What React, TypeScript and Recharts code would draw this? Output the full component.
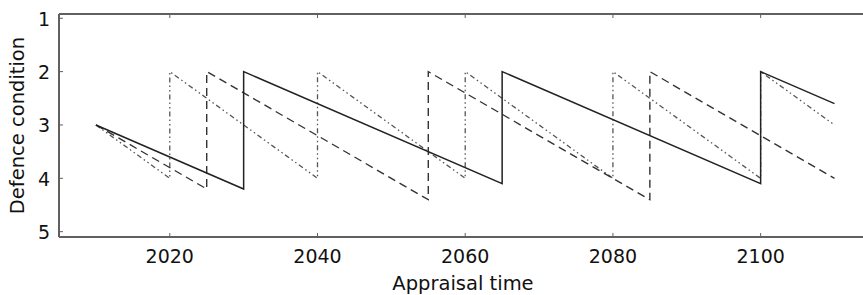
import React from 'react';
import { LineChart, Line, XAxis, YAxis } from 'recharts';

const solidYears = [2010, 2030, 2030, 2065, 2065, 2100, 2100, 2110];
const solidCondition = [3, 4.2, 2, 4.1, 2, 4.1, 2, 2.6];

const dashedYears = [2010, 2025, 2025, 2055, 2055, 2085, 2085, 2110];
const dashedCondition = [3, 4.2, 2, 4.4, 2, 4.4, 2, 4.0];

const dashDotYears = [2010, 2020, 2020, 2040, 2040, 2060, 2060, 2080, 2080, 2100, 2100, 2110];
const dashDotCondition = [3, 4, 2, 4, 2, 4, 2, 4, 2, 4, 2, 3];

const xTicks = [2020, 2040, 2060, 2080, 2100];
const yTicks = [1, 2, 3, 4, 5];

const toRows = (xs: number[], ys: number[]) => xs.map((x, i) => ({ year: x, value: ys[i] }));

const solidData = toRows(solidYears, solidCondition);
const dashedData = toRows(dashedYears, dashedCondition);
const dashDotData = toRows(dashDotYears, dashDotCondition);

const FONT = '"DejaVu Sans", sans-serif';
const AXIS = '#606060';
const TICKLEN = 4;

const BottomTick = (props: any) => {
  const { x, y, payload } = props;
  return (
    <g>
      <line x1={x} y1={y} x2={x} y2={y - TICKLEN} stroke={AXIS} strokeWidth={1} />
      <text x={x} y={y + 26} textAnchor="middle" fontFamily={FONT} fontSize={19} fill="#111">
        {payload.value}
      </text>
    </g>
  );
};

const TopTick = (props: any) => {
  const { x, y } = props;
  return <line x1={x} y1={y} x2={x} y2={y + TICKLEN} stroke={AXIS} strokeWidth={1} />;
};

const LeftTick = (props: any) => {
  const { x, y, payload } = props;
  return (
    <g>
      <line x1={x} y1={y} x2={x + TICKLEN} y2={y} stroke={AXIS} strokeWidth={1} />
      <text x={x - 9} y={y + 7.5} textAnchor="end" fontFamily={FONT} fontSize={19} fill="#111">
        {payload.value}
      </text>
    </g>
  );
};

const RightTick = (props: any) => {
  const { x, y } = props;
  return <line x1={x} y1={y} x2={x - TICKLEN} y2={y} stroke={AXIS} strokeWidth={1} />;
};

const XLabel = (props: any) => {
  const vb = props.viewBox || {};
  const cx = vb.x + vb.width / 2;
  return (
    <text x={cx} y={vb.y + 53} textAnchor="middle" fontFamily={FONT} fontSize={19.5} fill="#111">
      Appraisal time
    </text>
  );
};

const YLabel = (props: any) => {
  const vb = props.viewBox || {};
  const cy = vb.y + vb.height / 2;
  return (
    <text
      x={24}
      y={cy}
      transform={`rotate(-90, 24, ${cy})`}
      textAnchor="middle"
      fontFamily={FONT}
      fontSize={19.5}
      fill="#111"
    >
      Defence condition
    </text>
  );
};

export default function App() {
  return (
    <div style={{ position: 'absolute', left: 0, top: 0, width: 863, height: 295, overflow: 'hidden', background: '#fff' }}>
      <LineChart width={869} height={295} margin={{ top: 0, right: 0, bottom: 0, left: 0 }}>
        <XAxis
          xAxisId="bottom"
          type="number"
          dataKey="year"
          domain={[2005, 2114.4]}
          ticks={xTicks}
          allowDataOverflow
          orientation="bottom"
          height={58}
          tickSize={0}
          tickMargin={0}
          tickLine={false}
          axisLine={{ stroke: AXIS, strokeWidth: 2 }}
          tick={<BottomTick />}
          label={<XLabel />}
        />
        <XAxis
          xAxisId="top"
          type="number"
          dataKey="year"
          domain={[2005, 2114.4]}
          ticks={xTicks}
          allowDataOverflow
          orientation="top"
          height={14}
          tickSize={0}
          tickMargin={0}
          tickLine={false}
          axisLine={{ stroke: AXIS, strokeWidth: 2 }}
          tick={<TopTick />}
        />
        <YAxis
          yAxisId="left"
          type="number"
          dataKey="value"
          domain={[0.92, 5.1]}
          ticks={yTicks}
          reversed
          allowDataOverflow
          orientation="left"
          width={59}
          tickSize={0}
          tickMargin={0}
          tickLine={false}
          axisLine={{ stroke: AXIS, strokeWidth: 2 }}
          tick={<LeftTick />}
          label={<YLabel />}
        />
        <YAxis
          yAxisId="right"
          type="number"
          dataKey="value"
          domain={[0.92, 5.1]}
          ticks={yTicks}
          reversed
          allowDataOverflow
          orientation="right"
          width={2}
          tickSize={0}
          tickMargin={0}
          tickLine={false}
          axisLine={{ stroke: AXIS, strokeWidth: 2 }}
          tick={<RightTick />}
        />
        <Line
          xAxisId="bottom"
          yAxisId="left"
          data={dashDotData}
          dataKey="value"
          type="linear"
          stroke="#555"
          strokeWidth={1.3}
          strokeDasharray="5 3 1.5 3 1.5 3"
          dot={false}
          activeDot={false}
          isAnimationActive={false}
        />
        <Line
          xAxisId="bottom"
          yAxisId="left"
          data={dashedData}
          dataKey="value"
          type="linear"
          stroke="#333"
          strokeWidth={1.4}
          strokeDasharray="8 5"
          dot={false}
          activeDot={false}
          isAnimationActive={false}
        />
        <Line
          xAxisId="bottom"
          yAxisId="left"
          data={solidData}
          dataKey="value"
          type="linear"
          stroke="#222"
          strokeWidth={1.5}
          dot={false}
          activeDot={false}
          isAnimationActive={false}
        />
      </LineChart>
    </div>
  );
}
